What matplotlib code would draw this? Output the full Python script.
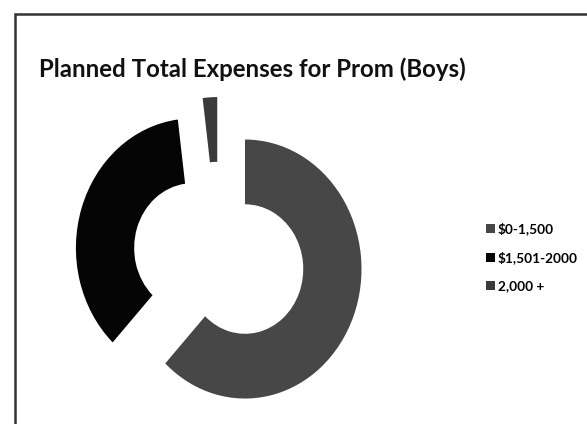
import matplotlib
matplotlib.use("Agg")
import matplotlib.pyplot as plt
from matplotlib.patches import Rectangle, Patch

title = "Planned Total Expenses for Prom (Boys)"
categories = ["$0-1,500", "$1,501-2000", "2,000 +"]
values = [62, 36, 2]
colors = ["#474747", "#050505", "#3a3a3a"]

W, H = 587, 424
fig = plt.figure(figsize=(W / 100, H / 100), dpi=100)
fig.patch.set_facecolor("white")

# outer frame (extends beyond right/bottom edges)
fig.patches.append(Rectangle((15 / W, -0.1), 1.2, (H - 14) / H + 0.1,
                             transform=fig.transFigure, fill=False,
                             edgecolor="#333333", linewidth=1.8))

# donut axes: y scale 129.5 px/unit, x scale 116.5 px/unit
ox, oy = 219, H - 257.6
sx, sy = 116.5, 129.5
xl, yl = 1.6, 1.25
ax = fig.add_axes([(ox - xl * sx) / W, (oy - yl * sy) / H,
                   2 * xl * sx / W, 2 * yl * sy / H])
ax.pie(values, colors=colors, startangle=90, counterclock=False,
       explode=[0.24] * len(values), radius=1.0,
       wedgeprops=dict(width=0.5, linewidth=0))
ax.set_aspect("auto")
ax.set_xlim(-xl, xl)
ax.set_ylim(-yl, yl)
ax.axis("off")

fig.text(39 / W, 1 - 69 / H, title, fontsize=17.3, fontweight="bold",
         family="Lato", va="center", ha="left", color="#111111")

handles = [Patch(facecolor=c, edgecolor="none") for c in colors]
fig.legend(handles, categories, loc="upper left",
           bbox_to_anchor=(486 / W, 1 - 222 / H), frameon=False,
           prop=dict(family="Lato", size=9.8, weight="bold"),
           handlelength=0.65, handleheight=0.65, handletextpad=0.2,
           labelspacing=1.2, borderpad=0, borderaxespad=0)

fig.savefig("out.png", dpi=100)
